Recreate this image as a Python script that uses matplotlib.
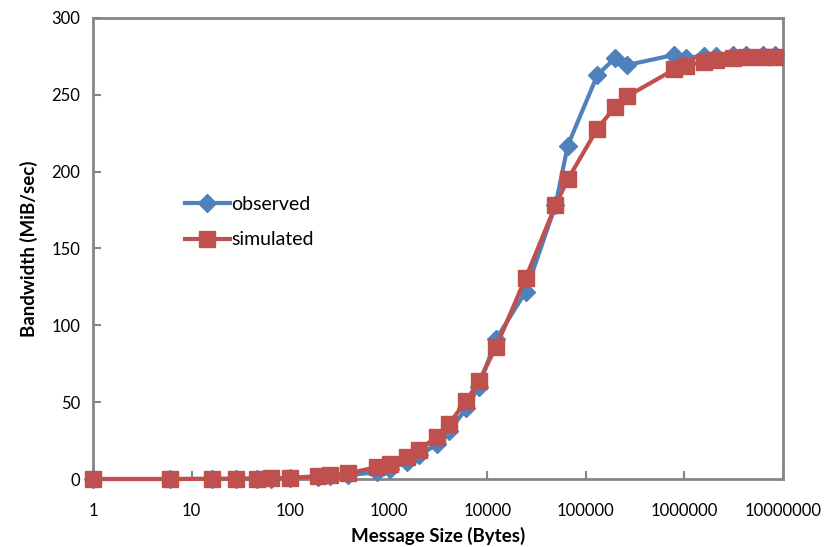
import matplotlib
matplotlib.use("Agg")
import matplotlib.pyplot as plt
from matplotlib.ticker import FixedLocator, NullLocator

plt.rcParams['font.family'] = ['Lato', 'DejaVu Sans']

# message sizes (bytes)
sizes = [1, 6, 16, 28, 46, 64, 100, 192, 256, 384, 768, 1024, 1536, 2048,
         3072, 4096, 6144, 8192, 12288, 24576, 49152, 65536, 131072,
         196608, 262144, 786432, 1048576, 1572864, 2097152, 3145728,
         4194304, 6291456, 8388608]

observed = [0.0, 0.0, 0.1, 0.1, 0.2, 0.3, 0.5, 1.5, 2.0, 2.5, 4.5, 6.5,
            11, 15.6, 22.5, 31, 46, 60, 91, 122, 178, 217, 263, 273.7,
            269.4, 276, 274, 275.5, 275.5, 276, 276, 276, 276]

simulated = [0.0, 0.0, 0.1, 0.2, 0.3, 0.5, 0.8, 1.8, 2.6, 3.6, 7.8, 10,
             14.5, 19, 27.6, 36, 51, 63.5, 86, 131, 178, 195, 228, 242,
             249, 266.5, 269, 271.5, 272.6, 273.7, 274.4, 274.8, 274.8]

xticks = [1, 10, 100, 1000, 10000, 100000, 1000000, 10000000]
xtick_labels = ['1', '10', '100', '1000', '10000', '100000', '1000000', '10000000']
yticks = [0, 50, 100, 150, 200, 250, 300]

blue = '#4F81BD'
red = '#C0504D'
grey = '#868686'

fig = plt.figure(figsize=(8.38, 5.47), dpi=100)
ax = fig.add_axes([93 / 838, 1 - 479 / 547, 690 / 838, 461 / 547])

ax.plot(sizes, observed, color=blue, lw=3, marker='D', ms=9,
        label='observed', clip_on=False, zorder=3)
ax.plot(sizes, simulated, color=red, lw=3, marker='s', ms=11,
        label='simulated', clip_on=False, zorder=4)

ax.set_xscale('log')
ax.set_xlim(1, 1e7)
ax.set_ylim(0, 300)
ax.xaxis.set_major_locator(FixedLocator(xticks))
ax.xaxis.set_minor_locator(NullLocator())
ax.set_xticklabels(xtick_labels)
ax.set_yticks(yticks)

for sp in ax.spines.values():
    sp.set_color(grey)
    sp.set_linewidth(2)

ax.tick_params(axis='both', direction='in', length=6, width=1.5, color=grey,
               labelsize=12, labelcolor='black')
ax.tick_params(axis='x', pad=17)
ax.tick_params(axis='y', pad=9)

ax.set_xlabel('Message Size (Bytes)', fontsize=13.5, fontweight='bold', labelpad=6)
ax.set_ylabel('Bandwidth (MiB/sec)', fontsize=13.5, fontweight='bold', labelpad=10)

ax.legend(loc='upper left', bbox_to_anchor=(0.122, 0.631), frameon=False,
          fontsize=14, handlelength=2.3, handletextpad=0.1, labelspacing=0.95,
          borderaxespad=0)

fig.savefig('out.png', dpi=100, facecolor='white')
